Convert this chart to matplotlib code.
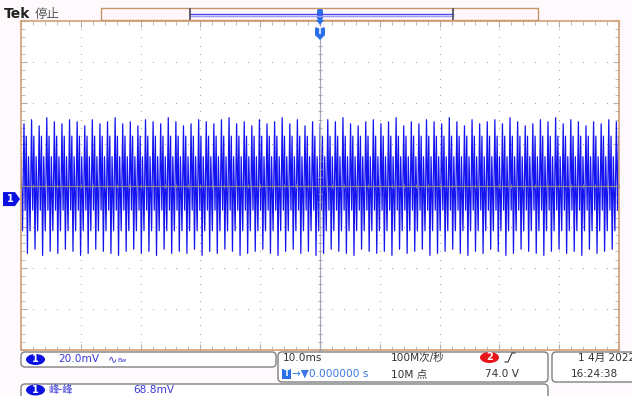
import numpy as np
import matplotlib.pyplot as plt
from matplotlib.patches import FancyBboxPatch, Rectangle, Ellipse, Polygon

plt.rcParams['font.family'] = ['DejaVu Sans', 'Noto Sans CJK SC']

# scope settings (from the status bar)
ms_per_div = 10.0
mv_per_div = 20.0
ch1_offset_div = -0.33

# one period of the ch1 signal (mV around screen centre)
period_ms = 1.27
first_peak_ms = 0.5
phase = [0.0, 0.15, 0.3, 0.45, 0.6, 0.8]
shape_mV = [33, -12, 24, -33, 14, -22]
PEAK_IDX, TROUGH_IDX = 0, 3

# per-cycle extremes (mV), estimated from the trace
peak_mV = [31, 30, 32, 29, 33, 31, 30, 32, 31, 29, 32, 30, 31, 33, 30, 31,
           29, 32, 31, 30, 33, 31, 29, 30, 32, 31, 30, 32, 33, 30, 31, 29,
           32, 30, 31, 33, 30, 32, 29, 31, 30, 32, 31, 33, 30, 29, 31, 32,
           30, 31, 33, 29, 31, 30, 32, 31, 30, 33, 31, 29, 32, 30, 31, 32,
           30, 33, 31, 29, 30, 32, 31, 33, 30, 32, 31, 29, 31, 30, 32, 31]
trough_mV = [-32, -33, -31, -34, -32, -33, -31, -32, -34, -33, -31, -32, -33, -34, -32, -31,
             -33, -32, -34, -31, -33, -32, -33, -31, -34, -32, -33, -31, -32, -34, -33, -32,
             -31, -33, -34, -32, -31, -33, -32, -34, -33, -31, -32, -33, -34, -31, -32, -33,
             -32, -34, -31, -33, -32, -31, -34, -33, -32, -31, -33, -34, -32, -33, -31, -32,
             -34, -33, -31, -32, -33, -34, -32, -31, -33, -32, -34, -31, -33, -32, -31, -33]

t_trace = []
v_trace = []
for i in range(len(peak_mV)):
    for k, (p, s) in enumerate(zip(phase, shape_mV)):
        if k == PEAK_IDX:
            s = peak_mV[i]
        elif k == TROUGH_IDX:
            s = trough_mV[i]
        t_trace.append(first_peak_ms + (i - 1 + p) * period_ms)
        v_trace.append(s)
t_trace = np.array(t_trace)
v_div = np.array(v_trace) / mv_per_div

W, H = 632, 396
fig = plt.figure(figsize=(W / 100, H / 100), dpi=100)
fig.patch.set_facecolor('#fdf9fc')

# scope screen
sx0, sx1, sy0, sy1 = 21, 619, 21, 350
ax = fig.add_axes([sx0 / W, 1 - sy1 / H, (sx1 - sx0) / W, (sy1 - sy0) / H])
ax.set_facecolor('white')
ax.set_xlim(0, 10 * ms_per_div)
ax.set_ylim(-4, 4)
for sp in ax.spines.values():
    sp.set_color('#d3a077')
    sp.set_linewidth(1.2)
ax.set_xticks(np.arange(0, 101, 10))
ax.set_xticks(np.arange(0, 101, 2), minor=True)
ax.set_yticks(np.arange(-4, 4.1, 1))
ax.set_yticks(np.arange(-4, 4.1, 0.2), minor=True)
ax.tick_params(which='both', direction='in', top=True, right=True,
               labelbottom=False, labelleft=False, colors='#b0b0b0')
ax.tick_params(which='major', length=4)
ax.tick_params(which='minor', length=3)

# dotted graticule
gx_major = np.arange(10, 100, 10)
gy_major = np.arange(-3, 4, 1)
gx_minor = np.arange(0, 100.1, 2)
gy_minor = np.arange(-4, 4.01, 0.2)
X1, Y1 = np.meshgrid(gx_major, gy_minor)
X2, Y2 = np.meshgrid(gx_minor, gy_major)
ax.scatter(X1.ravel(), Y1.ravel(), s=0.6, color='#9a9a9a', lw=0, zorder=1)
ax.scatter(X2.ravel(), Y2.ravel(), s=0.6, color='#9a9a9a', lw=0, zorder=1)

ax.plot(t_trace, v_div, color='#1414f0', lw=0.9, zorder=2)

# centre lines with ticks
ax.axhline(0, color='#8a8a8a', lw=0.9, zorder=3)
ax.axvline(50, color='#a8a8b8', lw=0.9, zorder=3)
ax.scatter(gx_minor, np.zeros_like(gx_minor), marker='|', s=12, color='#8a8a8a', lw=0.6, zorder=3)
ax.scatter(np.full_like(gy_minor, 50), gy_minor, marker='_', s=12, color='#9a9aaa', lw=0.6, zorder=3)

# overlay in pixel coordinates
ov = fig.add_axes([0, 0, 1, 1], zorder=5)
ov.set_xlim(0, W)
ov.set_ylim(H, 0)
ov.axis('off')
ov.patch.set_alpha(0)

dark = '#333333'
blue_txt = '#3a3ad8'
fs = 7.6

ov.text(4, 14, 'Tek', fontsize=10, fontweight='bold', color='#222222', va='center')
ov.text(35, 14, '停止', fontsize=9, color='#555555', va='center')

# record bar
ov.add_patch(Rectangle((101, 8), 437, 12, facecolor='#fff6fa', edgecolor='#c8986c', lw=1.0))
ov.plot([190, 453], [13.5, 13.5], color='#4a4af0', lw=1.0)
ov.plot([190, 453], [15.5, 15.5], color='#9c9cf6', lw=1.0)
ov.plot([190, 190], [9, 19], color='#555566', lw=1.3)
ov.plot([453, 453], [9, 19], color='#555566', lw=1.3)
ov.add_patch(FancyBboxPatch((317, 9), 6, 11, boxstyle='round,pad=0,rounding_size=2',
                            facecolor='#2a6fe8', edgecolor='none'))
ov.add_patch(Polygon([(316, 20), (324, 20), (320, 25)], facecolor='#2a6fe8', edgecolor='none'))
ov.add_patch(FancyBboxPatch((315, 27), 10, 9, boxstyle='round,pad=0,rounding_size=2',
                            facecolor='#2a6fe8', edgecolor='none'))
ov.add_patch(Polygon([(315, 35), (325, 35), (320, 40)], facecolor='#2a6fe8', edgecolor='none'))
ov.text(320, 32, 'T', fontsize=6, color='white', fontweight='bold', ha='center', va='center')

# ch1 ground marker
gy = (sy0 + sy1) / 2 - ch1_offset_div * (sy1 - sy0) / 8
ov.add_patch(Polygon([(3, gy - 7), (15, gy - 7), (20, gy), (15, gy + 7), (3, gy + 7)],
                     facecolor='#0a10e0', edgecolor='none'))
ov.text(10, gy, '1', fontsize=7, color='white', fontweight='bold', ha='center', va='center')


def box(x, y, w, h):
    ov.add_patch(FancyBboxPatch((x, y), w, h, boxstyle='round,pad=0,rounding_size=4',
                                facecolor='white', edgecolor='#808080', lw=1.0))


def ch_oval(x, y, label, color):
    ov.add_patch(Ellipse((x, y), 19, 11, facecolor=color, edgecolor='none'))
    ov.text(x, y, label, fontsize=7, color='white', fontweight='bold', ha='center', va='center')


# status boxes
box(21, 352, 255, 15)
box(278, 352, 270, 30)
box(552, 352, 95, 30)
box(21, 384, 527, 20)

ch_oval(35.5, 359.5, '1', '#0a10e0')
ov.text(58, 359.5, '20.0mV', fontsize=fs, color=blue_txt, va='center')
ov.text(108, 359, '∿', fontsize=8, color=blue_txt, va='center')
ov.text(117, 360, 'Bw', fontsize=4.5, color=blue_txt, va='center')

ov.text(283, 358, '10.0ms', fontsize=fs, color=dark, va='center')
ov.text(391, 358, '100M次/秒', fontsize=fs, color=dark, va='center')
ch_oval(489.5, 357.5, '2', '#e8141c')
ov.plot([505, 508, 512, 515], [362, 362, 353, 353], color=dark, lw=0.8)

ov.add_patch(Rectangle((282, 369), 9, 10, facecolor='#2a6fe8', edgecolor='none'))
ov.text(286.5, 374, 'T', fontsize=6, color='white', fontweight='bold', ha='center', va='center')
ov.text(292, 374, '→▼0.000000 s', fontsize=fs, color='#3b78e6', va='center')
ov.text(391, 374, '10M 点', fontsize=fs, color=dark, va='center')
ov.text(485, 374, '74.0 V', fontsize=fs, color=dark, va='center')

ov.text(578, 358, '1 4月 2022', fontsize=fs, color=dark, va='center')
ov.text(571, 374, '16:24:38', fontsize=fs, color=dark, va='center')

ch_oval(35.5, 390, '1', '#0a10e0')
ov.text(48, 390, '峰-峰', fontsize=fs, color=blue_txt, va='center',
        family=['Noto Sans CJK SC', 'DejaVu Sans'])
ov.text(133, 390, '68.8mV', fontsize=fs, color=blue_txt, va='center')

fig.savefig('out.png', dpi=100)
